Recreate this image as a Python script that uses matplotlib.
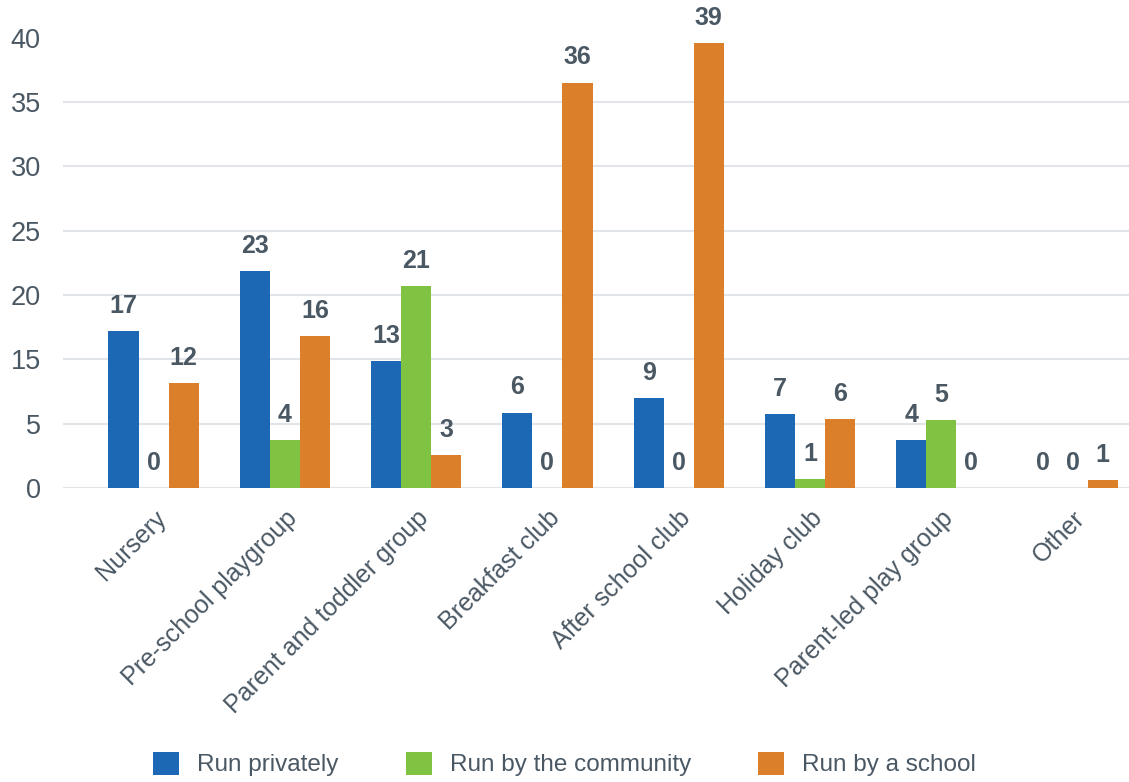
import matplotlib.pyplot as plt
import numpy as np

categories = ["Nursery", "Pre-school playgroup", "Parent and toddler group",
              "Breakfast club", "After school club", "Holiday club",
              "Parent-led play group", "Other"]
series = ["Run privately", "Run by the community", "Run by a school"]

# printed value labels
private_labels = [17, 23, 13, 6, 9, 7, 4, 0]
community_labels = [0, 4, 21, 0, 0, 1, 5, 0]
school_labels = [12, 16, 3, 36, 39, 6, 0, 1]

# bar heights as drawn against the axis
private_heights = [13.9, 19.3, 11.3, 6.7, 8.0, 6.6, 4.3, 0]
community_heights = [0, 4.3, 17.9, 0, 0, 0.8, 6.0, 0]
school_heights = [9.3, 13.5, 2.9, 36.0, 39.5, 6.1, 0, 0.7]

ytick_labels = ["0", "5", "15", "20", "25", "30", "35", "40"]

colors = ["#1c68b4", "#80c242", "#db7f2a"]
text_color = "#4a5864"
plt.rcParams["font.family"] = ["Liberation Sans", "DejaVu Sans"]

fig = plt.figure(figsize=(11.29, 7.82), dpi=100)
ax = fig.add_axes([63 / 1129, 1 - 488 / 782, 1 - 63 / 1129, (488 - 37.5) / 782])

x = np.arange(len(categories))
w = 0.229
heights = [private_heights, community_heights, school_heights]
labels = [private_labels, community_labels, school_labels]
for k in range(3):
    pos = x + (k - 1) * w
    ax.bar(pos, heights[k], width=w, color=colors[k], label=series[k], zorder=3)
    for xi, h, lab in zip(pos, heights[k], labels[k]):
        ax.annotate(str(lab), (xi, h), xytext=(0, 13), textcoords="offset points",
                    ha="center", va="baseline", fontsize=18, fontweight="bold",
                    color=text_color, annotation_clip=False)

ax.set_xlim(-0.69, 7.43)
ax.set_ylim(0, 40)
ax.set_yticks(np.linspace(0, 40, 8))
ax.set_yticklabels(ytick_labels, fontsize=19.5, color=text_color)
ax.yaxis.grid(True, color="#e1e5ea", linewidth=1.5, zorder=0)
ax.tick_params(axis="y", length=0, pad=16)
ax.tick_params(axis="x", length=0, pad=13)
ax.set_xticks(x)
ax.set_xticklabels(categories, rotation=45, ha="right", rotation_mode="anchor",
                   fontsize=18, color=text_color)
for s in ax.spines.values():
    s.set_visible(False)

fig.legend(loc="center", bbox_to_anchor=(0.5, 1 - 764 / 782), ncol=3,
           frameon=False, fontsize=17.5, handlelength=1.07, handleheight=1.07,
           handletextpad=0.74, columnspacing=2.76, borderaxespad=0, borderpad=0,
           labelcolor=text_color)

fig.savefig("out.png", dpi=100)
